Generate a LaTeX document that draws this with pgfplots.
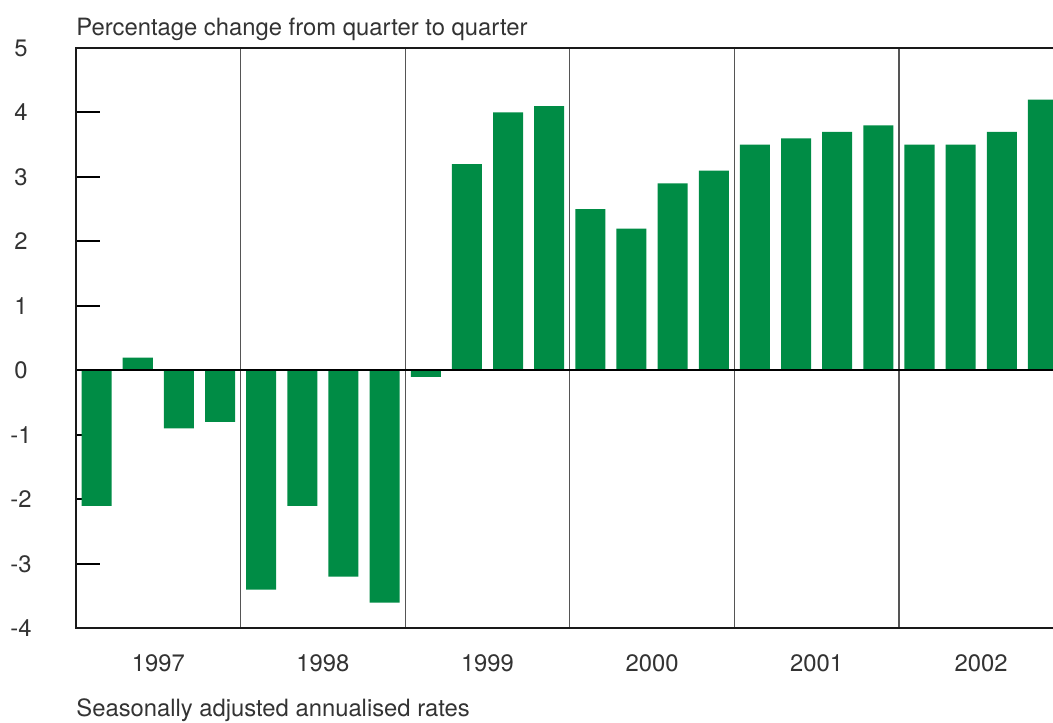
\documentclass[border=0pt]{standalone}
\usepackage{pgfplots}
\pgfplotsset{compat=1.18}
\usepackage{fontspec}
\setmainfont{TeX Gyre Heros}
\definecolor{bargreen}{RGB}{0,140,69}
\definecolor{txt}{RGB}{51,51,51}
\definecolor{sep}{RGB}{85,85,85}
\begin{document}
\begin{tikzpicture}
\begin{axis}[
  name=ax,
  at={(0,0)}, anchor=south west,
  scale only axis, width=488.25pt, height=290pt,
  xmin=-0.5, xmax=23.245, ymin=-4, ymax=5,
  axis line style={draw=none},
  ytick={-4,...,5}, yticklabels={-4,-3,-2,-1,0,1,2,3,4,5},
  ytick pos=left, tick align=inside, major tick length=12pt,
  ytick style={black, line width=1pt},
  yticklabel style={anchor=center, xshift=-27.5pt, text=txt},
  xtick={1.5,5.5,9.5,13.5,17.5,21.5},
  xticklabels={1997,1998,1999,2000,2001,2002},
  xtick style={draw=none},
  minor x tick style={draw=none},
  xticklabel style={yshift=2.5pt, text=txt},
  minor xtick={3.5,7.5,11.5,15.5,19.5},
  xminorgrids=true,
  minor x grid style={sep, line width=0.65pt},
  font=\fontsize{11.9}{14}\selectfont,
  ybar, bar width=15pt, bar shift=0pt,
  clip mode=individual,
]
\addplot[fill=bargreen, draw=none] coordinates {
(0,-2.1) (1,0.2) (2,-0.9) (3,-0.8)
(4,-3.4) (5,-2.1) (6,-3.2) (7,-3.6)
(8,-0.1) (9,3.2) (10,4.0) (11,4.1)
(12,2.5) (13,2.2) (14,2.9) (15,3.1)
(16,3.5) (17,3.6) (18,3.7) (19,3.8)
(20,3.5) (21,3.5) (22,3.7) (23,4.2)
};
\draw[black, line width=1pt] (axis cs:-0.5,0) -- (axis cs:23.245,0);
\end{axis}
\draw[black!90, line width=1pt] (ax.south east) -- (ax.south west) -- (ax.north west) -- (ax.north east);
\node[anchor=base west, inner sep=0pt, yshift=6.5pt, text=txt, font=\fontsize{11.9}{14}\selectfont] at (ax.north west) {Percentage change from quarter to quarter};
\node[anchor=base west, inner sep=0pt, yshift=-44pt, text=txt, font=\fontsize{11.9}{14}\selectfont] at (ax.south west) {Seasonally adjusted annualised rates};
\pgfresetboundingbox
\useasboundingbox (-38pt,-47pt) rectangle (488.25pt,314pt);
\end{tikzpicture}
\end{document}
